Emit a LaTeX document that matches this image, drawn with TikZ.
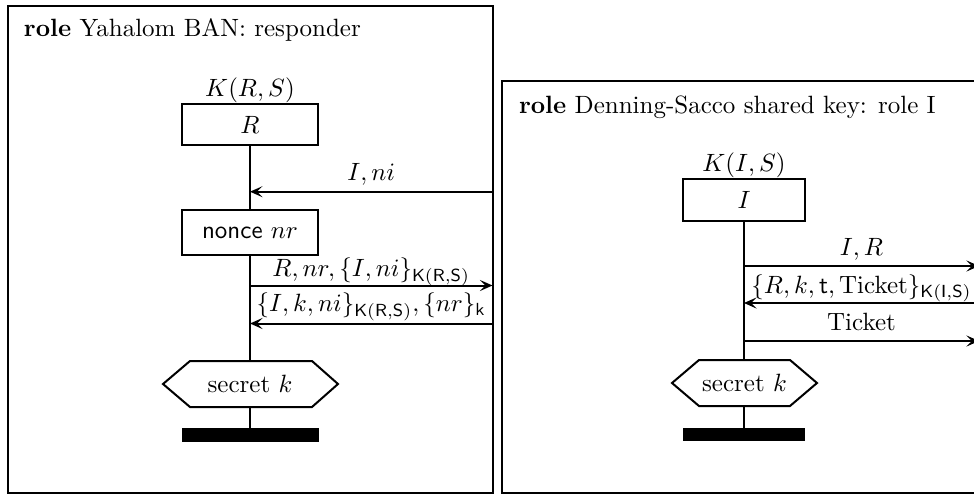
\documentclass[tikz,border=0pt]{standalone}
\usepackage{amsmath}
\usetikzlibrary{calc,arrows.meta}
\begin{document}
\begin{tikzpicture}[x=0.4pt,y=-0.4pt, line width=0.8pt,
  agentbox/.style={draw, line width=0.8pt, inner sep=0pt},
  lbl/.style={anchor=base, inner sep=0pt},
  msg/.style={-{Stealth[length=5pt,width=4.4pt,inset=2.2pt]}},
  lifeline/.style={line width=0.8pt}]
\useasboundingbox (0,0) rectangle (974,494);
% ---------- left role ----------
\draw (8,6) rectangle (492.5,492.5);
\node[lbl, anchor=base west] (titleL) at (23,36) {\textbf{role} Yahalom BAN: responder};
\node[agentbox, minimum width=54.4pt, minimum height=16.4pt] (R) at (250,124.5) {$R$};
\node[lbl] (kR) at (250,96) {$K(R,S)$};
\node[agentbox, minimum width=54.4pt, minimum height=18pt] (nR) at (250,232.5) {\textsf{nonce} $nr$};
\node[inner sep=0pt] (secL) at (250,384) {secret $k$};
\draw (163,384) -- (190,361) -- (312,361) -- (338,384) -- (312,407) -- (190,407) -- cycle;
\coordinate (hexLtop) at (250,361);
\coordinate (hexLbot) at (250,407);
\fill (182,428) rectangle (319,442);
\coordinate (barL) at (250,428);
\draw[lifeline] (R.south) -- (nR.north);
\draw[lifeline] (nR.south) -- (hexLtop);
\draw[lifeline] (hexLbot) -- (barL);
\coordinate (a1l) at (250,191.7);
\coordinate (a1r) at (492.5,191.7);
\coordinate (a2l) at (250,285.5);
\coordinate (a2r) at (492.5,285.5);
\coordinate (a3l) at (250,323.5);
\coordinate (a3r) at (492.5,323.5);
\draw[msg] (a1r) -- (a1l);
\draw[msg] (a2l) -- (a2r);
\draw[msg] (a3r) -- (a3l);
\node[lbl] (m1) at ($(a1l)!0.5!(a1r)+(0,-11)$) {$I, ni$};
\node[lbl] (m2) at ($(a2l)!0.5!(a2r)+(0,-9)$) {$R, nr, \{I, ni\}_{\mathsf{K(R,S)}}$};
\node[lbl] (m3) at ($(a3l)!0.5!(a3r)+(0,-12)$) {$\{I, k, ni\}_{\mathsf{K(R,S)}}, \{nr\}_{\mathsf{k}}$};
% ---------- right role ----------
\draw (502,81) rectangle (979,492.5);
\node[lbl, anchor=base west] (titleR) at (518,113) {\textbf{role} Denning-Sacco shared key: role I};
\node[agentbox, minimum width=48.8pt, minimum height=16.8pt] (I) at (744,200) {$I$};
\node[lbl] (kI) at (744,171) {$K(I,S)$};
\node[inner sep=0pt] (secR) at (744.5,383) {secret $k$};
\draw (672,383) -- (699,360) -- (790,360) -- (817,383) -- (790,406) -- (699,406) -- cycle;
\coordinate (hexRtop) at (744,360);
\coordinate (hexRbot) at (744,406);
\fill (683,428) rectangle (805,441);
\coordinate (barR) at (744,428);
\draw[lifeline] (I.south) -- (hexRtop);
\draw[lifeline] (hexRbot) -- (barR);
\coordinate (b1l) at (744,266);
\coordinate (b1r) at (979,266);
\coordinate (b2l) at (744,303);
\coordinate (b2r) at (979,303);
\coordinate (b3l) at (744,341);
\coordinate (b3r) at (979,341);
\draw[msg] (b1l) -- (b1r);
\draw[msg] (b2r) -- (b2l);
\draw[msg] (b3l) -- (b3r);
\node[lbl] (n1) at ($(b1l)!0.5!(b1r)+(0,-10.5)$) {$I, R$};
\node[lbl] (n2) at ($(b2l)!0.5!(b2r)+(0,-10)$) {$\{R, k, \mathsf{t}, \mathrm{Ticket}\}_{\mathsf{K(I,S)}}$};
\node[lbl] (n3) at ($(b3l)!0.5!(b3r)+(0,-11)$) {Ticket};
\end{tikzpicture}
\end{document}
